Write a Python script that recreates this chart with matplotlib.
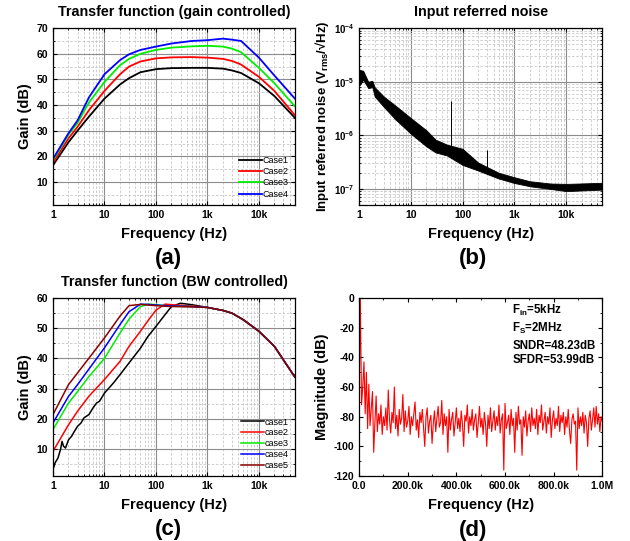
import matplotlib
matplotlib.use('Agg')
import matplotlib.pyplot as plt
from matplotlib.ticker import FixedLocator, FixedFormatter, LogLocator, NullFormatter, MultipleLocator

plt.rcParams['font.family'] = ['Liberation Sans', 'DejaVu Sans']
plt.rcParams['mathtext.fontset'] = 'custom'
plt.rcParams['mathtext.rm'] = 'Liberation Sans'
plt.rcParams['mathtext.bf'] = 'Liberation Sans:bold'
plt.rcParams['mathtext.default'] = 'bf'
plt.rcParams['axes.unicode_minus'] = False

# (a) transfer function, gain controlled
freq_a = [1, 2, 3, 5, 10, 20, 30, 50, 100, 200, 500, 1000, 2000, 3000, 4500, 10000, 20000, 50000]
gain_case1 = [16.5, 25.5, 30, 35.5, 42.5, 48, 50.5, 52.8, 54, 54.4, 54.5, 54.5, 54.2, 53.5, 52.5, 48.5, 43.5, 35]
gain_case2 = [17.5, 27, 31.5, 38, 45.5, 52, 55, 57, 58.2, 58.6, 58.7, 58.5, 58, 57.2, 55.8, 51, 45.5, 36]
gain_case3 = [18.5, 28.5, 33, 41, 49, 55.5, 58, 60, 61.5, 62.4, 62.9, 63.1, 62.8, 62, 60.6, 54.5, 48.5, 39.5]
gain_case4 = [19, 29, 34, 43, 52, 57.5, 59.8, 61.5, 62.8, 64, 65, 65.3, 65.9, 65.5, 65, 58.5, 51.5, 42.5]

# (b) input referred noise, band envelope
freq_b = [1, 1.2, 1.5, 1.8, 2, 3, 5, 10, 20, 30, 50, 100, 200, 500, 1000, 2000, 5000, 10000, 50000]
noise_hi = [1.67e-5, 1.6e-5, 1.0e-5, 1.04e-5, 7.9e-6, 5.3e-6, 3.6e-6, 2.1e-6, 1.24e-6, 8.3e-7, 6.7e-7,
            5.6e-7, 3.1e-7, 2.0e-7, 1.65e-7, 1.39e-7, 1.26e-7, 1.24e-7, 1.3e-7]
noise_lo = [8.4e-6, 1.09e-5, 7.6e-6, 7.9e-6, 5.3e-6, 3.4e-6, 2.0e-6, 1.07e-6, 6.2e-7, 4.8e-7, 4.2e-7,
            2.8e-7, 2.2e-7, 1.56e-7, 1.29e-7, 1.12e-7, 1.0e-7, 9.1e-8, 9.7e-8]
spike_freq = [60, 300]
spike_base = [4.8e-7, 2.4e-7]
spike_top = [4.4e-6, 5.4e-7]

# (c) transfer function, BW controlled
freq_c1 = [1, 1.1, 1.25, 1.4, 1.5, 1.6, 1.75, 2, 2.3, 2.6, 3, 3.5, 4, 5, 6, 7, 8, 10, 15, 20, 30, 50,
           70, 100, 150, 200, 300, 500, 1000, 2000, 3000, 5000, 10000, 20000, 50000]
bw_case1 = [3.2, 5.4, 7, 9.8, 12.5, 10.9, 10.3, 13, 14.2, 15.8, 17.5, 18.6, 20.3, 21.4, 23.6, 25.2, 25.8,
            28.5, 31.9, 34.6, 38.5, 43.4, 47.3, 50.6, 54.5, 57.2, 58.3, 57.8, 56.9, 55.9, 55, 52.8, 49, 44, 33.8]
freq_c = [1, 2, 3, 5, 10, 20, 30, 50, 70, 100, 150, 200, 500, 1000, 2000, 3000, 5000, 10000, 20000, 50000]
bw_case2 = [9.2, 18, 22.5, 27.5, 33, 39, 44, 49, 52.5, 56, 58, 57.8, 57.4, 56.9, 55.9, 55, 52.8, 49, 44, 33.8]
bw_case3 = [16.4, 25.2, 29, 34, 40, 48.4, 53, 57.2, 58, 57.8, 57.5, 57.3, 57.2, 56.9, 55.9, 55, 52.8, 49, 44, 33.8]
bw_case4 = [18.6, 27.4, 31.3, 36.5, 43.5, 51.2, 55.5, 58, 57.9, 57.7, 57.5, 57.4, 57.2, 56.9, 55.9, 55, 52.8, 49, 44, 33.8]
bw_case5 = [21.4, 31.3, 35.2, 40.1, 46.8, 54, 57.5, 57.9, 57.7, 57.5, 57.3, 57.2, 57.1, 56.9, 55.9, 55, 52.8, 49, 44, 33.8]

# (d) output spectrum, bins of 5 kHz
bin_khz = 5
spectrum = [
    -68, 0, -72, -60, -43, -78, -50, -88, -58, -86,
    -75, -63, -104, -84, -66, -90, -78, -85, -72, -92,
    -80, -86, -74, -89, -62, -82, -91, -77, -84, -60,
    -88, -79, -93, -75, -85, -81, -65, -90, -76, -87,
    -83, -73, -92, -80, -86, -78, -70, -89, -82, -94,
    -77, -84, -75, -88, -100, -80, -74, -91, -83, -79,
    -98, -85, -76, -90, -81, -73, -87, -84, -69, -92,
    -78, -86, -80, -104, -75, -89, -82, -77, -93, -84,
    -74, -88, -81, -90, -76, -85, -100, -79, -83, -72,
    -91, -80, -86, -75, -89, -82, -78, -94, -84, -73,
    -87, -81, -92, -77, -85, -100, -79, -88, -74, -90,
    -83, -76, -89, -80, -86, -72, -91, -82, -78, -116,
    -71, -88, -84, -79, -92, -75, -86, -81, -104, -77,
    -89, -73, -85, -82, -106, -80, -87, -76, -93, -83,
    -78, -90, -74, -86, -81, -88, -75, -92, -79, -84,
    -72, -89, -83, -77, -91, -80, -85, -74, -94, -82,
    -76, -88, -81, -86, -73, -90, -79, -84, -77, -92,
    -80, -87, -75, -89, -98, -82, -78, -85, -83, -116,
    -74, -88, -80, -86, -77, -91, -79, -84, -100, -81,
    -76, -89, -82, -74, -87, -73, -85, -78, -90, -80,
    -83,
]
freq_d = [k * bin_khz * 1000 for k in range(len(spectrum))]

log_ticks = [1, 10, 100, 1000, 10000]
log_labels = ['1', '10', '100', '1k', '10k']

fig = plt.figure(figsize=(6.3, 5.41), dpi=100)
ax_a = fig.add_axes([0.0841, 0.621, 0.384, 0.327])
ax_b = fig.add_axes([0.570, 0.621, 0.386, 0.327])
ax_c = fig.add_axes([0.0841, 0.120, 0.384, 0.329])
ax_d = fig.add_axes([0.570, 0.120, 0.386, 0.329])


def style_log_axis(ax):
    ax.set_xscale('log')
    ax.set_xlim(1, 50000)
    ax.xaxis.set_major_locator(FixedLocator(log_ticks))
    ax.xaxis.set_major_formatter(FixedFormatter(log_labels))
    ax.xaxis.set_minor_locator(LogLocator(base=10, subs=range(2, 10), numticks=20))
    ax.xaxis.set_minor_formatter(NullFormatter())
    ax.grid(True, which='major', color='#8c8c8c', linewidth=0.8, linestyle='-')
    ax.grid(True, which='minor', color='#c8c8c8', linewidth=0.6, linestyle=(0, (3, 2)))
    ax.set_axisbelow(True)
    ax.set_xlabel('Frequency (Hz)', fontsize=10.5, fontweight='bold', labelpad=5)


for ax in [ax_a, ax_b, ax_c, ax_d]:
    ax.tick_params(which='both', direction='in', top=True, right=True, labelsize=7.5)
    ax.tick_params(which='major', length=3)
    ax.tick_params(which='minor', length=1.5)
    for sp in ax.spines.values():
        sp.set_linewidth(0.9)

# (a)
style_log_axis(ax_a)
ax_a.plot(freq_a, gain_case1, color='black', lw=1.3, label='Case1')
ax_a.plot(freq_a, gain_case2, color='#ff0000', lw=1.3, label='Case2')
ax_a.plot(freq_a, gain_case3, color='#00ee00', lw=1.3, label='Case3')
ax_a.plot(freq_a, gain_case4, color='#0000ff', lw=1.3, label='Case4')
ax_a.set_ylim(1, 70)
ax_a.yaxis.set_major_locator(MultipleLocator(10))
ax_a.yaxis.set_minor_locator(MultipleLocator(5))
ax_a.set_ylabel('Gain (dB)', fontsize=10.5, fontweight='bold', labelpad=3)
ax_a.set_title('Transfer function (gain controlled)', fontsize=10.3, fontweight='bold', pad=9)
ax_a.legend(loc='lower right', frameon=False, fontsize=6.5, handlelength=2.5,
            labelspacing=0.25, handletextpad=0.1, borderaxespad=0.3)

# (b)
style_log_axis(ax_b)
ax_b.set_yscale('log')
ax_b.fill_between(freq_b, noise_lo, noise_hi, color='black', lw=0.6)
ax_b.vlines(spike_freq, spike_base, spike_top, color='black', lw=0.7)
ax_b.set_ylim(5e-8, 1e-4)
ax_b.yaxis.set_major_locator(LogLocator(base=10, numticks=10))
ax_b.yaxis.set_minor_locator(LogLocator(base=10, subs=range(2, 10), numticks=20))
ax_b.yaxis.set_minor_formatter(NullFormatter())
ax_b.tick_params(axis='y', labelsize=7)
ax_b.set_ylabel('Input referred noise (V$_{rms}$/\u221aHz)', fontsize=9.5, fontweight='bold', labelpad=2)
ax_b.set_title('Input referred noise', fontsize=10.3, fontweight='bold', pad=9)

# (c)
style_log_axis(ax_c)
ax_c.plot(freq_c1, bw_case1, color='black', lw=1.1, label='case1')
ax_c.plot(freq_c, bw_case2, color='#ff0000', lw=1.1, label='case2')
ax_c.plot(freq_c, bw_case3, color='#00ee00', lw=1.1, label='case3')
ax_c.plot(freq_c, bw_case4, color='#0000ff', lw=1.1, label='case4')
ax_c.plot(freq_c, bw_case5, color='#8b0000', lw=1.1, label='case5')
ax_c.set_ylim(1, 60)
ax_c.yaxis.set_major_locator(MultipleLocator(10))
ax_c.yaxis.set_minor_locator(MultipleLocator(5))
ax_c.set_ylabel('Gain (dB)', fontsize=10.5, fontweight='bold', labelpad=3)
ax_c.set_title('Transfer function (BW controlled)', fontsize=10.3, fontweight='bold', pad=9)
ax_c.legend(loc='lower right', frameon=False, fontsize=6.5, handlelength=2.5,
            labelspacing=0.2, handletextpad=0.1, borderaxespad=0.3)

# (d)
ax_d.plot(freq_d, spectrum, color='#ff0000', lw=0.8)
ax_d.set_xlim(0, 1e6)
ax_d.set_ylim(-120, 0)
ax_d.xaxis.set_major_locator(FixedLocator([0, 2e5, 4e5, 6e5, 8e5, 1e6]))
ax_d.xaxis.set_major_formatter(FixedFormatter(['0.0', '200.0k', '400.0k', '600.0k', '800.0k', '1.0M']))
ax_d.xaxis.set_minor_locator(MultipleLocator(1e5))
ax_d.yaxis.set_major_locator(MultipleLocator(20))
ax_d.yaxis.set_minor_locator(MultipleLocator(10))
ax_d.set_xlabel('Frequency (Hz)', fontsize=10.5, fontweight='bold', labelpad=5)
ax_d.set_ylabel('Magnitude (dB)', fontsize=10.5, fontweight='bold', labelpad=3)
ax_d.text(0.63, 0.93, 'F$_{in}$=5kHz', transform=ax_d.transAxes, fontsize=8.3, fontweight='bold', va='center')
ax_d.text(0.63, 0.83, 'F$_{S}$=2MHz', transform=ax_d.transAxes, fontsize=8.3, fontweight='bold', va='center')
ax_d.text(0.63, 0.73, 'SNDR=48.23dB', transform=ax_d.transAxes, fontsize=8.3, fontweight='bold', va='center')
ax_d.text(0.63, 0.65, 'SFDR=53.99dB', transform=ax_d.transAxes, fontsize=8.3, fontweight='bold', va='center')

for ax in [ax_a, ax_b, ax_c, ax_d]:
    for lbl in ax.get_xticklabels() + ax.get_yticklabels():
        lbl.set_fontweight('bold')

fig.text(0.268, 0.523, '(a)', fontsize=16, fontweight='bold', ha='center', va='center')
fig.text(0.751, 0.523, '(b)', fontsize=16, fontweight='bold', ha='center', va='center')
fig.text(0.268, 0.022, '(c)', fontsize=16, fontweight='bold', ha='center', va='center')
fig.text(0.751, 0.020, '(d)', fontsize=16, fontweight='bold', ha='center', va='center')

fig.savefig('out.png', dpi=100)
